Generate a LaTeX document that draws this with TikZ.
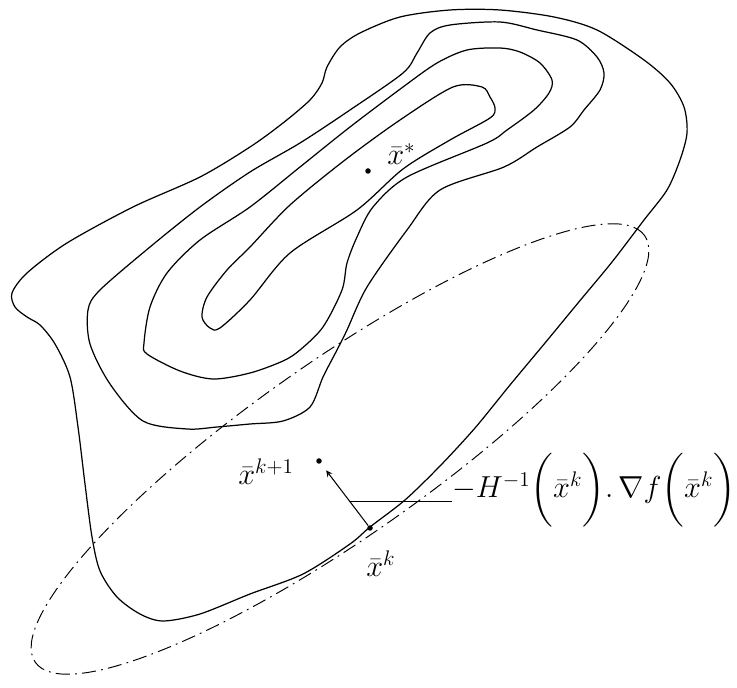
\documentclass[tikz,border=0pt]{standalone}
\usepackage{amsmath,amssymb}
\usepackage{tikz}
\usetikzlibrary{calc}

\begin{document}
\begin{tikzpicture}[x=0.02cm,y=-0.02cm,
  contour/.style={line width=0.7pt},
  trust/.style={line width=0.55pt,dash pattern=on 8pt off 3pt on 1pt off 3pt},
  ptdot/.style={circle,fill,inner sep=0pt,minimum size=0.11cm},
  lbl/.style={inner sep=0pt,anchor=base west,font=\fontsize{17.5}{20}\selectfont}]
\useasboundingbox (0,0) rectangle (737,688);

% Level curves of f
\draw[contour] plot[smooth cycle] coordinates {(450,10) (500,10) (554,17) (597,30) (644,60) (670,83) (684,107) (687,133) (680,160) (667,190) (644,220) (612,262) (578,303) (545,343) (510,385) (475,428) (440,466) (405,500) (370,527) (350,544) (303,574) (250,594) (200,614) (163,621) (140,614) (117,597) (100,571) (92,537) (85,484) (78,427) (70,377) (55,344) (40,325) (27,317) (15,307) (12,293) (27,273) (67,243) (133,207) (200,177) (250,147) (283,123) (310,100) (322,83) (327,67) (340,47) (360,33) (400,17)};
\draw[contour] plot[smooth cycle] coordinates {(450,25) (500,22) (537,30) (577,40) (597,57) (604,73) (600,90) (584,110) (570,127) (537,147) (504,167) (440,190) (407,230) (367,287) (347,330) (337,350) (323,377) (310,407) (283,421) (250,424) (217,427) (187,429) (143,421) (110,384) (90,344) (88,310) (100,290) (150,247) (200,207) (250,172) (300,143) (350,110) (403,73) (417,53) (430,33)};
\draw[contour] plot[smooth cycle] coordinates {(500,48) (520,52) (540,63) (552,80) (549,93) (534,110) (507,130) (487,143) (407,177) (373,207) (357,237) (347,263) (342,290) (323,327) (300,350) (283,361) (250,373) (213,379) (180,371) (147,354) (144,343) (150,307) (167,273) (200,240) (250,207) (300,167) (350,127) (403,87) (437,63) (467,50)};
\draw[contour] plot[smooth cycle] coordinates {(453,87) (482,87) (490,97) (495,108) (490,118) (450,140) (403,169) (357,210) (290,253) (250,300) (220,328) (210,328) (202,317) (207,297) (227,270) (250,247) (290,205) (345,160) (400,120)};

% Quadratic model of f at the iterate
\draw[trust,shift={(340,449)},rotate=35] (0,0) ellipse [x radius=7.44cm, y radius=1.76cm];

% Optimum
\node[ptdot] (xs) at (368,171) {};
\node[lbl] (xslab) at (387,165) {$\bar{x}^{*}$};

% Current iterate and Newton iterate
\node[ptdot] (xk) at (370,528) {};
\node[lbl] (xklab) at (366,577) {$\bar{x}^{k}$};

\node[ptdot] (xk1) at (319,461) {};
\node[lbl] (xk1lab) at (238,485) {$\bar{x}^{k+1}$};

% Newton step
\draw[line width=0.6pt,->,>=stealth,shorten >=5pt] (xk) -- (xk1);
\coordinate (lead) at ($(xk)!0.39!(xk1)$);
\node[lbl] (step) at (452,498) {$-H^{-1}\biggl(\bar{x}^{k}\biggr).\,\nabla f\biggl(\bar{x}^{k}\biggr)$};
\draw[line width=0.6pt] (lead) -- (lead -| step.west);
\end{tikzpicture}
\end{document}
